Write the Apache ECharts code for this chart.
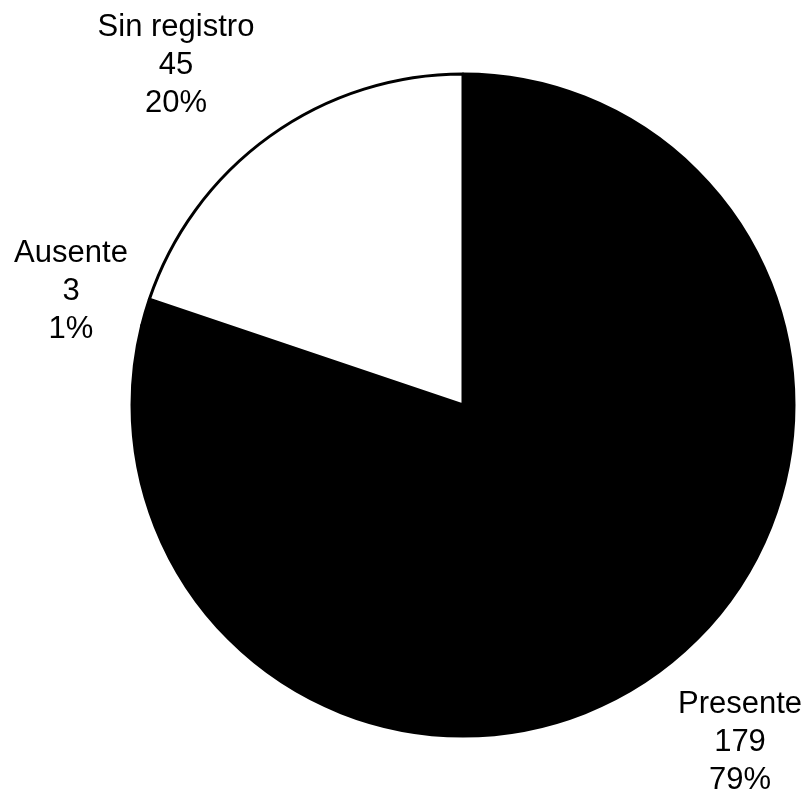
<!DOCTYPE html>
<html>
<head>
<meta charset="utf-8">
<script src="https://cdn.jsdelivr.net/npm/echarts@6/dist/echarts.min.js"></script>
<style>
  html, body { margin: 0; padding: 0; background: #fff; }
  #chart { width: 809px; height: 794px; }
</style>
</head>
<body>
<div id="chart"></div>
<script>
// Categories and counts, drawn clockwise from 12 o'clock
const categories = ['Presente', 'Ausente', 'Sin registro'];
const counts = [179, 3, 45];
const fills = ['#000000', '#000000', '#ffffff'];

// Where each three-line label block is centred (px)
const labelSpots = [[740, 742], [71, 291], [176, 65]];

const chart = echarts.init(document.getElementById('chart'), null, { renderer: 'canvas' });

chart.setOption({
  backgroundColor: '#ffffff',
  animation: false,
  series: [{
    type: 'pie',
    center: [463, 405],
    radius: 331,
    startAngle: 90,
    clockwise: true,
    percentPrecision: 0,
    avoidLabelOverlap: false,
    emphasis: { disabled: true },
    data: categories.map((name, i) => ({
      name: name,
      value: counts[i],
      itemStyle: { color: fills[i] }
    })),
    itemStyle: { borderColor: '#000000', borderWidth: 3 },
    label: {
      show: true,
      position: 'outside',
      formatter: '{b}\n{c}\n{d}%',
      fontFamily: '"Liberation Sans", Arial, sans-serif',
      fontSize: 31,
      lineHeight: 38,
      color: '#000000',
      align: 'center'
    },
    labelLine: { show: false },
    labelLayout: function (params) {
      const p = labelSpots[params.dataIndex];
      return { x: p[0], y: p[1], align: 'center', verticalAlign: 'middle', hideOverlap: false };
    }
  }]
});
</script>
</body>
</html>
